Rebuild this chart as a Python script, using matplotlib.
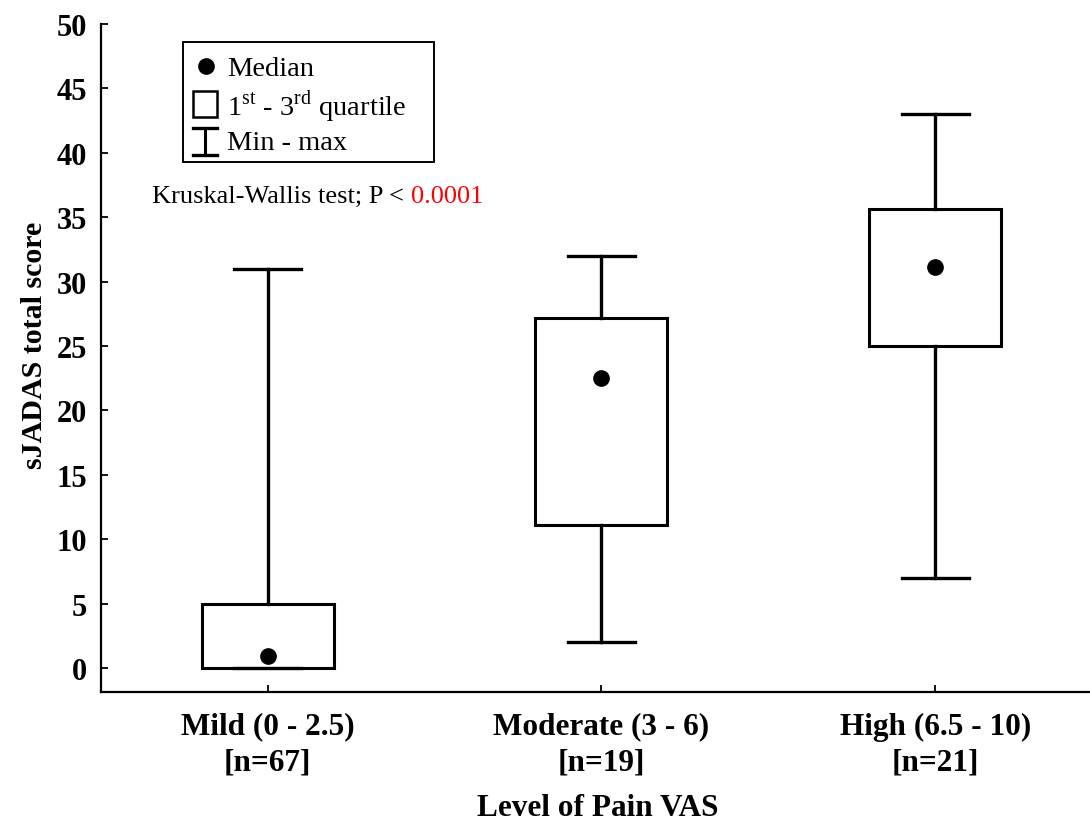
import matplotlib
matplotlib.use("Agg")
import matplotlib.pyplot as plt
from matplotlib.patches import Rectangle
from matplotlib.lines import Line2D

plt.rcParams["font.family"] = ["Liberation Serif", "DejaVu Serif"]
plt.rcParams["mathtext.fontset"] = "custom"
plt.rcParams["mathtext.rm"] = "Liberation Serif"

# Summary statistics of sJADAS total score by pain VAS level
categories = ["Mild (0 - 2.5)\n[n=67]", "Moderate (3 - 6)\n[n=19]", "High (6.5 - 10)\n[n=21]"]
minimum = [0, 2, 7]
q1 = [0, 11.1, 25.0]
median = [0.9, 22.5, 31.1]
q3 = [5, 27.2, 35.6]
maximum = [31, 32, 43]
yticks = list(range(0, 51, 5))

W, H = 1090, 828
AX_L, AX_R, AX_T, AX_B = 100.7, 1090, 25, 693
fig = plt.figure(figsize=(W / 100, H / 100), dpi=100)
ax = fig.add_axes([AX_L / W, 1 - AX_B / H, (AX_R - AX_L) / W, (AX_B - AX_T) / H])

stats = [dict(med=m, q1=a, q3=b, whislo=lo, whishi=hi, fliers=[])
         for m, a, b, lo, hi in zip(median, q1, q3, minimum, maximum)]
positions = list(range(len(categories)))
ax.bxp(stats, positions=positions, widths=0.395, capwidths=0.2,
       patch_artist=True, showfliers=False,
       boxprops=dict(facecolor="white", edgecolor="black", linewidth=2.2),
       whiskerprops=dict(color="black", linewidth=2.4),
       capprops=dict(color="black", linewidth=2.4),
       medianprops=dict(visible=False))
ax.plot(positions, median, "o", color="black", markersize=11, zorder=5)

ax.set_xlim(-0.5, 2.464)
ax.set_ylim(-1.86, 50)
ax.set_yticks(yticks)
ax.set_xticks(positions)
ax.set_xticklabels(categories, fontsize=22.5, fontweight="bold", linespacing=1.3)
ax.tick_params(axis="y", direction="in", length=5, width=1.3, pad=10,
               labelsize=22)
ax.tick_params(axis="x", direction="in", length=5, width=1.3, pad=14)
for lbl in ax.get_yticklabels():
    lbl.set_fontweight("bold")
for side in ("top", "right"):
    ax.spines[side].set_visible(False)
for side in ("left", "bottom"):
    ax.spines[side].set_linewidth(1.6)


def ax_x(px):
    return (px - AX_L) / (AX_R - AX_L)


def ax_y(py):
    return (AX_B - py) / (AX_B - AX_T)


ax.set_ylabel("sJADAS total score", fontsize=21.5, fontweight="bold")
ax.yaxis.set_label_coords(ax_x(35), ax_y(345))
ax.yaxis.label.set_va("center")
ax.set_xlabel("Level of Pain VAS", fontsize=22.5, fontweight="bold")
ax.xaxis.set_label_coords(ax_x(598), ax_y(809))
ax.xaxis.label.set_va("center")

# Key box in the upper-left corner
def fx(px):
    return px / W


def fy(py):
    return 1 - py / H


fig.add_artist(Rectangle((fx(183), fy(163)), fx(434) - fx(183), fy(43) - fy(163),
                         transform=fig.transFigure, facecolor="white",
                         edgecolor="black", linewidth=1.4))
fig.add_artist(Line2D([fx(206)], [fy(67)], marker="o", markersize=11,
                      color="black", transform=fig.transFigure))
fig.add_artist(Rectangle((fx(193), fy(118)), fx(217) - fx(193), fy(92) - fy(118),
                         transform=fig.transFigure, facecolor="white",
                         edgecolor="black", linewidth=1.8))
fig.add_artist(Line2D([fx(205), fx(205)], [fy(129), fy(156)], color="black",
                      linewidth=2.2, transform=fig.transFigure))
fig.add_artist(Line2D([fx(193), fx(217)], [fy(129), fy(129)], color="black",
                      linewidth=2.4, transform=fig.transFigure))
fig.add_artist(Line2D([fx(193), fx(217)], [fy(156), fy(156)], color="black",
                      linewidth=2.4, transform=fig.transFigure))
fig.text(fx(227), fy(69), "Median", fontsize=20.5, va="center", ha="left")
fig.text(fx(227), fy(106), r"1$^{\mathrm{st}}$ - 3$^{\mathrm{rd}}$ quartile",
         fontsize=20.5, va="center", ha="left")
fig.text(fx(227), fy(144), "Min - max", fontsize=20.5, va="center", ha="left")

t1 = fig.text(fx(152), fy(197), "Kruskal-Wallis test; P < ", fontsize=19,
              va="center", ha="left")
ax.annotate("0.0001", xy=(1, 0), xycoords=t1, va="bottom", ha="left",
            fontsize=19, color="red")

fig.savefig("out.png", dpi=100)
